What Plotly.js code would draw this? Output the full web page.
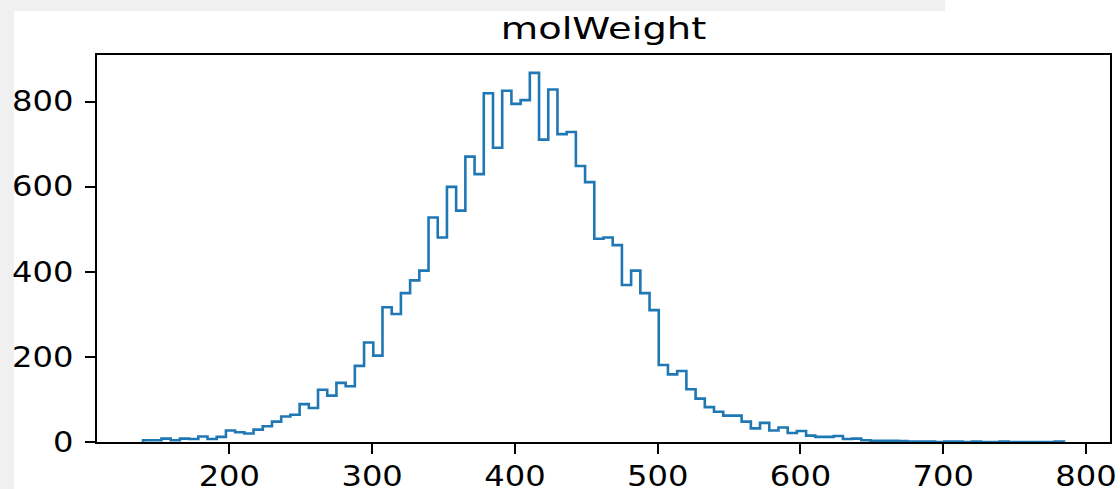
<!DOCTYPE html>
<html>
<head>
<meta charset="utf-8">
<script src="https://cdn.plot.ly/plotly-3.0.1.min.js"></script>
<style>
  html, body { margin: 0; padding: 0; background: #ffffff; }
  #wrap { position: relative; width: 1120px; height: 489px; overflow: hidden; }
  .band { position: absolute; background: #f0f0f0; }
  #chart { position: absolute; left: 0; top: 0; width: 1120px; height: 489px; }
</style>
</head>
<body>
<div id="wrap">
  <div class="band" style="left:0;top:0;width:945px;height:11px;"></div>
  <div class="band" style="left:0;top:0;width:14px;height:489px;"></div>
  <div id="chart"></div>
</div>
<script>
// Histogram of molWeight: 100 equal-width bins
const binStart = 139.55;
const binWidth = 6.45;
const counts = [
  4, 4, 8, 4, 8, 7, 13, 7, 12, 27,
  23, 20, 29, 37, 48, 60, 64, 89, 80, 123,
  109, 139, 131, 179, 234, 203, 317, 301, 350, 380,
  403, 528, 481, 600, 544, 671, 630, 820, 692, 826,
  795, 804, 868, 711, 829, 724, 729, 649, 611, 478,
  481, 463, 369, 403, 350, 310, 181, 159, 167, 124,
  102, 82, 71, 62, 62, 48, 32, 45, 27, 34,
  21, 26, 15, 12, 12, 14, 7, 8, 4, 3,
  3, 3, 2, 1, 1, 1, 0, 1, 1, 0,
  1, 0, 0, 1, 0, 0, 0, 0, 0, 1
];
const xTicks = [200, 300, 400, 500, 600, 700, 800];
const yTicks = [0, 200, 400, 600, 800];
const title = 'molWeight';

// Build step outline (matplotlib histtype="step")
const xs = [binStart];
const ys = [0];
for (let i = 0; i < counts.length; i++) {
  xs.push(binStart + i * binWidth);
  ys.push(counts[i]);
}
xs.push(binStart + counts.length * binWidth);
ys.push(0);

const trace = {
  type: 'scatter',
  mode: 'lines',
  x: xs,
  y: ys,
  line: { shape: 'hv', color: '#1f77b4', width: 2.6 },
  hoverinfo: 'skip'
};

const axisCommon = {
  showline: true,
  mirror: true,
  linecolor: '#000000',
  linewidth: 2,
  ticks: 'outside',
  ticklen: 10,
  tickwidth: 2,
  tickcolor: '#000000',
  showgrid: false,
  zeroline: false,
  tickfont: { family: 'DejaVu Sans, sans-serif', size: 27.5, color: '#000000' }
};

const layout = {
  width: 1120,
  height: 489,
  paper_bgcolor: 'rgba(0,0,0,0)',
  plot_bgcolor: '#ffffff',
  margin: { l: 97, r: 10, t: 55, b: 47, pad: 0 },
  showlegend: false,
  title: {
    text: title,
    font: { family: 'DejaVu Sans, sans-serif', size: 31, color: '#000000' },
    x: 0.5, xanchor: 'center', xref: 'paper',
    y: 0.943, yanchor: 'middle'
  },
  xaxis: Object.assign({}, axisCommon, {
    range: [107.3, 816.8],
    tickmode: 'array',
    tickvals: xTicks,
    ticktext: xTicks.map(String),
    ticklabelstandoff: -1
  }),
  yaxis: Object.assign({}, axisCommon, {
    range: [0, 910],
    tickmode: 'array',
    tickvals: yTicks,
    ticktext: yTicks.map(String),
    ticklabelstandoff: 6
  })
};

function stretch(sel, sx) {
  document.querySelectorAll(sel).forEach(function (t) {
    const x = parseFloat(t.getAttribute('x')) || 0;
    const tr = t.getAttribute('transform') || '';
    t.setAttribute('transform', tr + ' translate(' + x + ',0) scale(' + sx + ',1) translate(' + (-x) + ',0)');
  });
}

Plotly.newPlot('chart', [trace], layout, { displayModeBar: false, staticPlot: true }).then(function () {
  stretch('.xtick text', 1.17);
  stretch('.ytick text', 1.17);
  stretch('.gtitle', 1.24);
});
</script>
</body>
</html>
